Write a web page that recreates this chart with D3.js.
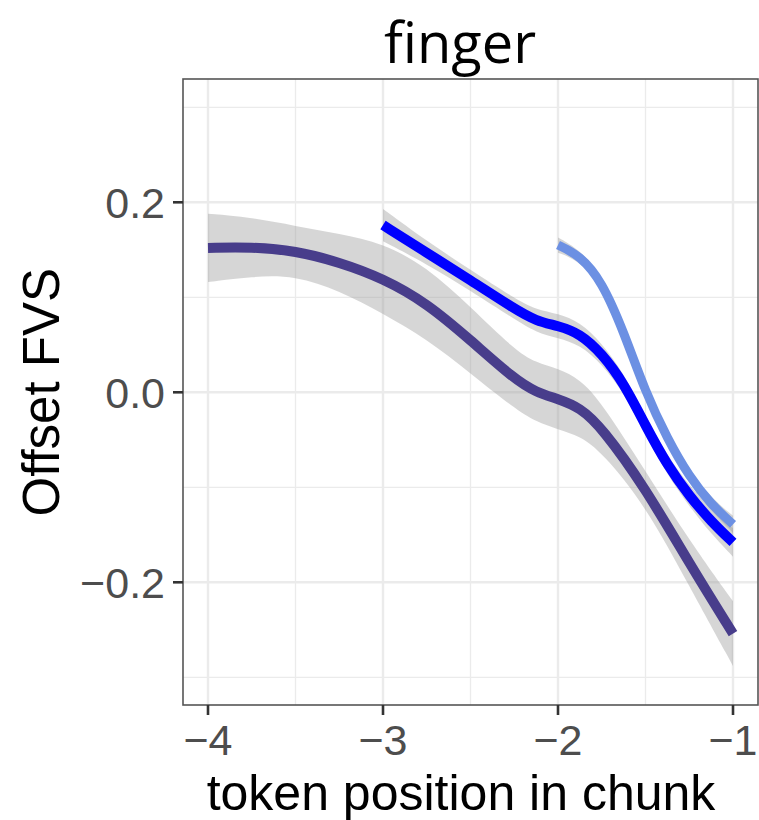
<!DOCTYPE html>
<html>
<head>
<meta charset="utf-8">
<script src="https://cdn.jsdelivr.net/npm/d3@7"></script>
<style>
  html, body { margin: 0; padding: 0; background: #ffffff; }
  svg { display: block; }
</style>
</head>
<body>
<svg id="chart" width="759" height="820"></svg>
<script>
// ---------------- DATA ----------------
const chartTitle = "finger";
const xTitle = "token position in chunk";
const yTitle = "Offset FVS";

const xTicks = [-4, -3, -2, -1];
const xTickLabels = ["\u22124", "\u22123", "\u22122", "\u22121"];
const xMinor = [-3.5, -2.5, -1.5];
const yTicks = [-0.2, 0.0, 0.2];
const yTickLabels = ["\u22120.2", "0.0", "0.2"];
const yMinor = [-0.3, -0.1, 0.1, 0.3];

// series: start at -4 (dark), -3 (blue), -2 (light blue)
const darkX  = [-4, -3.75, -3.5, -3.25, -3, -2.75, -2.5, -2.25, -2.125, -2, -1.875, -1.75, -1.5, -1.25, -1];
const darkY  = [0.152, 0.153, 0.149, 0.137, 0.120, 0.094, 0.055, 0.014, 0.000, -0.007, -0.016, -0.037, -0.101, -0.180, -0.254];
const darkSE = [0.036, 0.031, 0.026, 0.030, 0.037, 0.038, 0.035, 0.031, 0.031, 0.032, 0.030, 0.026, 0.018, 0.024, 0.034];

const blueX  = [-3, -2.75, -2.5, -2.25, -2.125, -2, -1.875, -1.75, -1.625, -1.5, -1.375, -1.25, -1.125, -1];
const blueY  = [0.176, 0.147, 0.118, 0.088, 0.075, 0.070, 0.062, 0.041, 0.010, -0.035, -0.077, -0.109, -0.136, -0.158];
const blueSE = [0.017, 0.012, 0.011, 0.011, 0.012, 0.013, 0.012, 0.011, 0.010, 0.010, 0.010, 0.011, 0.013, 0.015];

const lightX  = [-2, -1.875, -1.75, -1.625, -1.5, -1.375, -1.25, -1.125, -1];
const lightY  = [0.155, 0.144, 0.117, 0.064, 0.000, -0.049, -0.089, -0.118, -0.139];
const lightSE = [0.008, 0.006, 0.006, 0.006, 0.006, 0.006, 0.006, 0.007, 0.009];

const seriesColors = ["#483D8B", "#6C90E3", "#0000FF"];

// ---------------- LAYOUT ----------------
const svg = d3.select("#chart");
const panel = { left: 183, right: 758, top: 79, bottom: 705 };

const x = d3.scaleLinear().domain([-4, -1]).range([208, 733]);
const y = d3.scaleLinear().domain([-0.2, 0.2]).range([582.3, 202.3]);

svg.append("rect")
  .attr("x", panel.left).attr("y", panel.top)
  .attr("width", panel.right - panel.left).attr("height", panel.bottom - panel.top)
  .attr("fill", "#ffffff");

const grid = svg.append("g");
grid.selectAll("line.xminor").data(xMinor).join("line")
  .attr("x1", d => x(d)).attr("x2", d => x(d))
  .attr("y1", panel.top).attr("y2", panel.bottom)
  .attr("stroke", "#EBEBEB").attr("stroke-width", 1.3);
grid.selectAll("line.yminor").data(yMinor).join("line")
  .attr("y1", d => y(d)).attr("y2", d => y(d))
  .attr("x1", panel.left).attr("x2", panel.right)
  .attr("stroke", "#EBEBEB").attr("stroke-width", 1.3);
grid.selectAll("line.xmajor").data(xTicks).join("line")
  .attr("x1", d => x(d)).attr("x2", d => x(d))
  .attr("y1", panel.top).attr("y2", panel.bottom)
  .attr("stroke", "#EBEBEB").attr("stroke-width", 2.4);
grid.selectAll("line.ymajor").data(yTicks).join("line")
  .attr("y1", d => y(d)).attr("y2", d => y(d))
  .attr("x1", panel.left).attr("x2", panel.right)
  .attr("stroke", "#EBEBEB").attr("stroke-width", 2.4);

function mk(xs, ys, se) { return xs.map((v, i) => ({ x: v, y: ys[i], se: se[i] })); }
const series = [
  { data: mk(darkX, darkY, darkSE), color: seriesColors[0], w: 10 },
  { data: mk(lightX, lightY, lightSE), color: seriesColors[1], w: 9 },
  { data: mk(blueX, blueY, blueSE), color: seriesColors[2], w: 10 }
];

const curve = d3.curveBasis;
const area = d3.area().curve(curve)
  .x(d => x(d.x)).y0(d => y(d.y - d.se)).y1(d => y(d.y + d.se));
const line = d3.line().curve(curve).x(d => x(d.x)).y(d => y(d.y));

const plot = svg.append("g");
series.forEach(s => {
  plot.append("path").attr("d", area(s.data))
    .attr("fill", "#999999").attr("fill-opacity", 0.4);
});
series.forEach(s => {
  plot.append("path").attr("d", line(s.data))
    .attr("fill", "none").attr("stroke", s.color)
    .attr("stroke-width", s.w).attr("stroke-linecap", "butt");
});

svg.append("rect")
  .attr("x", panel.left).attr("y", panel.top)
  .attr("width", panel.right - panel.left).attr("height", panel.bottom - panel.top)
  .attr("fill", "none").attr("stroke", "#555555").attr("stroke-width", 1.6);

const axes = svg.append("g");
axes.selectAll("line.xt").data(xTicks).join("line")
  .attr("x1", d => x(d)).attr("x2", d => x(d))
  .attr("y1", panel.bottom).attr("y2", panel.bottom + 10)
  .attr("stroke", "#333333").attr("stroke-width", 2.6);
axes.selectAll("line.yt").data(yTicks).join("line")
  .attr("y1", d => y(d)).attr("y2", d => y(d))
  .attr("x1", panel.left - 10).attr("x2", panel.left)
  .attr("stroke", "#333333").attr("stroke-width", 2.6);

const font = "'Liberation Sans', Arial, Helvetica, sans-serif";
axes.selectAll("text.xl").data(xTicks).join("text")
  .attr("x", d => x(d)).attr("y", 755)
  .attr("text-anchor", "middle")
  .attr("font-family", font).attr("font-size", 43).attr("fill", "#4D4D4D")
  .text((d, i) => xTickLabels[i]);
axes.selectAll("text.yl").data(yTicks).join("text")
  .attr("x", 165).attr("y", d => y(d)).attr("dy", "0.36em")
  .attr("text-anchor", "end")
  .attr("font-family", font).attr("font-size", 43).attr("fill", "#4D4D4D")
  .text((d, i) => yTickLabels[i]);

svg.append("text")
  .attr("x", 461).attr("y", 810)
  .attr("text-anchor", "middle")
  .attr("font-family", font).attr("font-size", 50).attr("fill", "#000000")
  .text(xTitle);
svg.append("text")
  .attr("transform", `translate(59, ${y(0)}) rotate(-90)`)
  .attr("text-anchor", "middle")
  .attr("font-family", font).attr("font-size", 51).attr("fill", "#000000")
  .text(yTitle);
svg.append("text")
  .attr("x", 460).attr("y", 63)
  .attr("text-anchor", "middle")
  .attr("font-family", "'Open Sans', 'Noto Sans', sans-serif").attr("font-size", 56).attr("fill", "#000000")
  .text(chartTitle);
</script>
</body>
</html>
